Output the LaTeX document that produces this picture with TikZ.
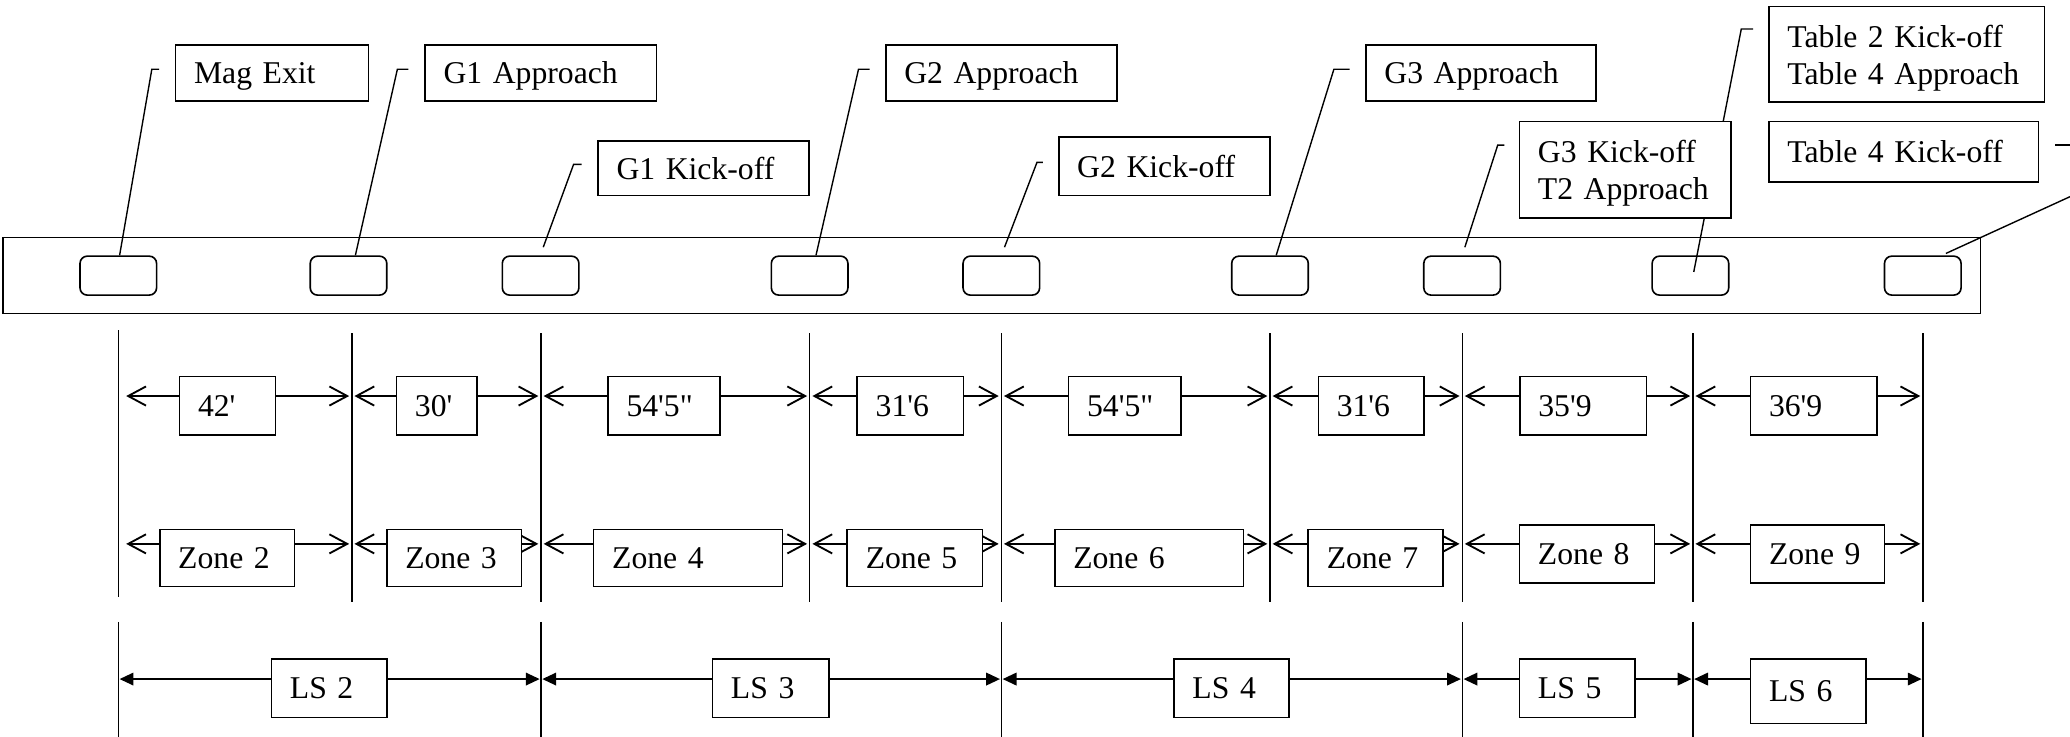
\documentclass[tikz,border=0pt]{standalone}
\usepackage{fontspec}
\newfontfamily\lbfont{Liberation Serif}
\usetikzlibrary{arrows.meta}
\newcommand\mkbox[7][]{%
  \pgfmathsetmacro\mkw{(#5-#3-28)*0.1}%
  \pgfmathsetmacro\mkh{(#6-#4)*0.1}%
  \node[lb,#1,minimum height=\mkh mm,text width=\mkw mm] (#2) at ({(#3+#5)/2},{(#4+#6)/2}) {#7};}
\begin{document}
\begin{tikzpicture}[x=0.1mm,y=-0.1mm,
  lb/.style={draw,fill=white,line width=0.35pt,inner xsep=1.4mm,inner ysep=0pt,align=left,
    font=\lbfont\fontsize{6.83}{7.97}\selectfont,text depth=0pt},
  sb/.style={draw,line width=0.35pt,rounded corners=0.55mm,minimum width=5.8mm,minimum height=2.95mm,inner sep=0pt},
  co/.style={line width=0.3pt},
  vl/.style={line width=0.3pt},
  dim/.style={line width=0.4pt,{Straight Barb[length=1.35mm,width=1.45mm]}-{Straight Barb[length=1.35mm,width=1.45mm]},shorten <=0.2mm,shorten >=0.2mm},
  lsa/.style={line width=0.4pt,{Triangle[length=1.05mm,width=0.95mm]}-{Triangle[length=1.05mm,width=0.95mm]},shorten <=0.1mm,shorten >=0.1mm}]
\clip (0,0) rectangle (1568,558);
% track with stations
\draw[line width=0.35pt] (2.4,180) rectangle (1500.3,237.4);
\foreach \x [count=\i] in {89.6,264,409.5,613.3,758.5,962,1107.5,1280.5,1456.5}
  \node[sb] (b\i) at (\x,208.8) {};
% callout lines
\coordinate (h1) at (115,52.5);   \coordinate (k1) at (120.5,52.5);
\coordinate (h2) at (301,52.5);   \coordinate (k2) at (309.4,52.5);
\coordinate (h3) at (434.5,124.5);\coordinate (k3) at (440.6,124.5);
\coordinate (h4) at (650.3,52.5); \coordinate (k4) at (658.7,52.5);
\coordinate (h5) at (785.5,123);  \coordinate (k5) at (790,123);
\coordinate (h6) at (1010.4,52.5);\coordinate (k6) at (1022.3,52.5);
\coordinate (h7) at (1134.5,110); \coordinate (k7) at (1139.5,110);
\coordinate (h8) at (1319,22);    \coordinate (k8) at (1328,22);
\coordinate (k9) at (1557,110);   \coordinate (h9) at (1585,110);
\coordinate (e3) at (411.5,187.3);
\coordinate (e5) at (760.9,187.3);
\coordinate (e7) at (1109.6,187.3);
\coordinate (e8) at (1283,206);
\coordinate (s9) at (1474,192);
\coordinate (f9) at (1662,106);
\draw[co] (k1) -- (h1) -- ([xshift=0.1mm]b1.north);
\draw[co] (k2) -- (h2) -- ([xshift=0.52mm]b2.north);
\draw[co] (k3) -- (h3) -- (e3);
\draw[co] (k4) -- (h4) -- ([xshift=0.48mm]b4.north);
\draw[co] (k5) -- (h5) -- (e5);
\draw[co] (k6) -- (h6) -- ([xshift=0.47mm]b6.north);
\draw[co] (k7) -- (h7) -- (e7);
\draw[co] (k8) -- (h8) -- (e8);
\draw[co] (k9) -- (h9);
\draw[co] (s9) -- (f9);
% callout labels
\mkbox{me}{133}{34}{279}{76.3}{Mag Exit}
\mkbox{g1a}{322}{34}{497.3}{76.3}{G1 Approach}
\mkbox{g1k}{453}{107}{613}{148}{G1 Kick-off}
\mkbox{g2a}{671}{34}{846}{76.3}{G2 Approach}
\mkbox{g2k}{802}{104}{962}{148}{G2 Kick-off}
\mkbox{g3a}{1034.7}{34}{1209}{76.3}{G3 Approach}
\mkbox[text depth=2.8mm]{g3k}{1151}{92}{1311}{165}{G3 Kick-off\\T2 Approach}
\mkbox[text depth=2.8mm]{t24}{1340}{5}{1548.6}{77.5}{Table 2 Kick-off\\Table 4 Approach}
\mkbox{t4k}{1340}{92}{1544}{138}{Table 4 Kick-off}
% vertical boundary lines
\foreach \x [count=\i] in {89.6,266.5,409.8,613.4,758.5,962,1107.6,1282.3,1456.6}{
  \coordinate (a\i) at (\x,300);
  \coordinate (z\i) at (\x,412);
  \coordinate (l\i) at (\x,514.4);
}
\draw[vl] (89.6,250) -- (89.6,452.4);
\foreach \x in {266.5,409.8,613.4,758.5,962,1107.6,1282.3,1456.6}
  \draw[vl] (\x,252.5) -- (\x,455.7);
\foreach \x in {89.6,409.8,758.5,1107.6,1282.3,1456.6}
  \draw[vl] (\x,471) -- (\x,560);
% dimension arrows
\draw[dim,shorten <=0.6mm] (a1) -- (a2);
\foreach \i/\j in {2/3,3/4,4/5,5/6,6/7,7/8,8/9} \draw[dim] (a\i) -- (a\j);
\draw[dim,shorten <=0.6mm] (z1) -- (z2);
\foreach \i/\j in {2/3,3/4,4/5,5/6,6/7,7/8,8/9} \draw[dim] (z\i) -- (z\j);
\foreach \i/\j in {1/3,3/5,5/7,7/8,8/9} \draw[lsa] (l\i) -- (l\j);
% length labels
\mkbox{d1}{136}{285.3}{208.6}{329.5}{42'}
\mkbox{d2}{300.3}{285.3}{361.2}{329.5}{30'}
\mkbox{d3}{460.6}{285.3}{545.4}{329.5}{54'5"}
\mkbox{d4}{649.3}{285.3}{729.7}{329.5}{31'6}
\mkbox{d5}{809.5}{285.3}{894.4}{329.5}{54'5"}
\mkbox{d6}{998.6}{285.3}{1078.6}{329.5}{31'6}
\mkbox{d7}{1151.3}{285.3}{1247.3}{329.5}{35'9}
\mkbox{d8}{1326}{285.3}{1422}{329.5}{36'9}
% zone labels
\mkbox{zn2}{121}{401}{223}{444.4}{Zone 2}
\mkbox{zn3}{293}{401}{395}{444.4}{Zone 3}
\mkbox{zn4}{449.7}{401}{592.8}{444.4}{Zone 4}
\mkbox{zn5}{641.8}{401}{744.3}{444.4}{Zone 5}
\mkbox{zn6}{799}{401}{942}{444.4}{Zone 6}
\mkbox{zn7}{991}{401}{1093}{444.4}{Zone 7}
\mkbox{zn8}{1151}{397.7}{1253.3}{441.6}{Zone 8}
\mkbox{zn9}{1326}{397.7}{1427.6}{441.6}{Zone 9}
% LS labels
\mkbox{ls2}{205.6}{499.4}{293}{543.4}{LS 2}
\mkbox{ls3}{539.7}{499.4}{628}{543.4}{LS 3}
\mkbox{ls4}{889.3}{499.4}{976.4}{543.4}{LS 4}
\mkbox{ls5}{1151}{499.4}{1238.6}{543.4}{LS 5}
\mkbox{ls6}{1326}{499.4}{1413.3}{548}{LS 6}
\end{tikzpicture}
\end{document}
